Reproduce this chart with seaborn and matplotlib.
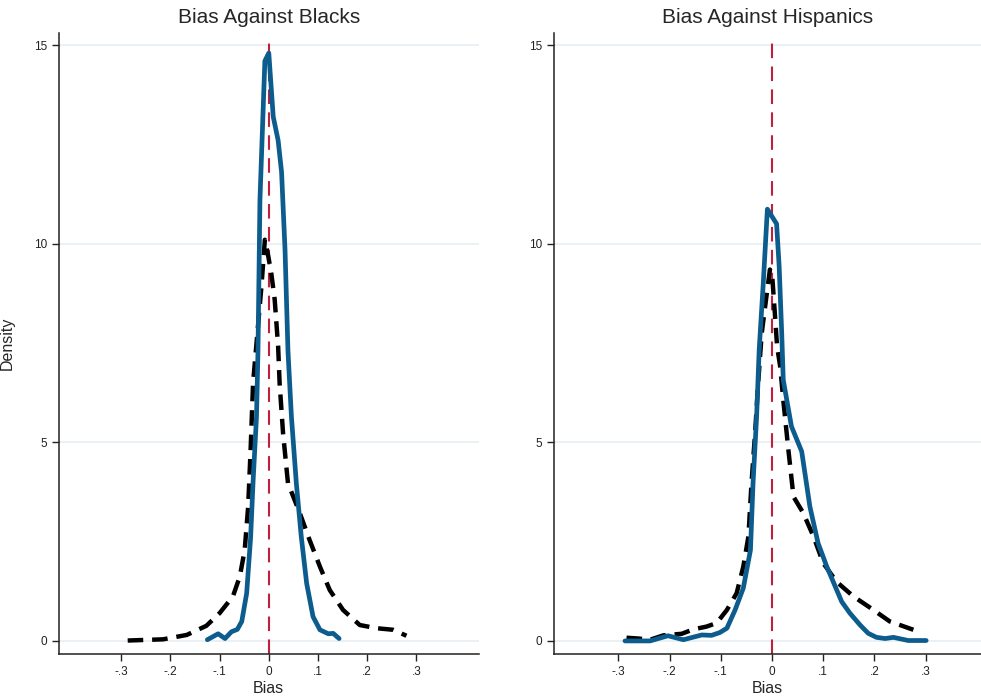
import matplotlib
matplotlib.use("Agg")
import matplotlib.pyplot as plt
import seaborn as sns
import pandas as pd

# ---- data ----
blacks_solid_x = [-0.125, -0.103, -0.089, -0.076, -0.064, -0.055, -0.045, -0.037, -0.032, -0.025,
                  -0.022, -0.018, -0.008, 0.0, 0.009, 0.019, 0.026, 0.033, 0.039, 0.046, 0.056,
                  0.066, 0.077, 0.090, 0.104, 0.121, 0.131, 0.143]
blacks_solid_y = [0.03, 0.18, 0.06, 0.23, 0.29, 0.49, 1.2, 2.6, 4.0, 5.65,
                  7.3, 11.1, 14.6, 14.8, 13.2, 12.6, 11.8, 9.85, 7.3, 5.65, 3.97,
                  2.63, 1.45, 0.61, 0.28, 0.18, 0.19, 0.06]

blacks_dash_x = [-0.287, -0.215, -0.167, -0.127, -0.100, -0.073, -0.059, -0.049, -0.042, -0.037,
                 -0.032, -0.015, -0.008, -0.001, 0.005, 0.012, 0.019, 0.022, 0.029, 0.039, 0.063,
                 0.083, 0.104, 0.124, 0.151, 0.185, 0.219, 0.253, 0.280]
blacks_dash_y = [0.01, 0.04, 0.15, 0.38, 0.70, 1.12, 1.62, 2.29, 3.38, 4.81,
                 6.49, 8.92, 10.1, 9.68, 9.26, 8.59, 7.41, 6.49, 5.23, 3.97, 3.22,
                 2.54, 1.87, 1.28, 0.78, 0.40, 0.32, 0.28, 0.13]

hisp_solid_x = [-0.287, -0.238, -0.203, -0.173, -0.137, -0.118, -0.102, -0.088, -0.072, -0.056,
                -0.042, -0.037, -0.030, -0.025, -0.017, -0.009, 0.009, 0.014, 0.019, 0.022,
                0.038, 0.058, 0.074, 0.090, 0.107, 0.136, 0.152, 0.172, 0.188, 0.204, 0.221,
                0.237, 0.266, 0.301]
hisp_solid_y = [0.0, 0.0, 0.13, 0.03, 0.15, 0.14, 0.21, 0.32, 0.78, 1.33,
                2.29, 3.97, 5.65, 7.33, 9.01, 10.87, 10.5, 9.43, 7.75, 6.57,
                5.4, 4.77, 3.38, 2.46, 1.87, 0.99, 0.70, 0.40, 0.19, 0.09, 0.06,
                0.09, 0.01, 0.01]

hisp_dash_x = [-0.284, -0.261, -0.238, -0.212, -0.176, -0.154, -0.128, -0.108, -0.088, -0.069,
               -0.056, -0.046, -0.040, -0.033, -0.027, -0.020, -0.010, -0.004, 0.001, 0.006,
               0.010, 0.016, 0.022, 0.032, 0.042, 0.061, 0.081, 0.100, 0.126, 0.159, 0.198,
               0.230, 0.276]
hisp_dash_y = [0.08, 0.06, 0.03, 0.14, 0.18, 0.29, 0.36, 0.45, 0.78, 1.2,
               1.87, 2.63, 3.97, 5.23, 6.49, 7.75, 8.76, 9.35, 9.09, 8.17,
               7.41, 6.91, 6.07, 4.81, 3.63, 3.22, 2.63, 1.96, 1.49, 1.12, 0.78,
               0.49, 0.28]

titles = ["Bias Against Blacks", "Bias Against Hispanics"]
x_ticks = [-0.3, -0.2, -0.1, 0.0, 0.1, 0.2, 0.3]
x_tick_labels = ["-.3", "-.2", "-.1", "0", ".1", ".2", ".3"]
y_ticks = [0, 5, 10, 15]

# ---- style ----
sns.set_style("white")
plt.rcParams['font.family'] = ['Liberation Sans', 'DejaVu Sans']

BLUE = "#0c5d8e"
RED = "#c0203e"
GRID = "#e8eef2"

fig = plt.figure(figsize=(9.81, 6.98), dpi=100)
axL = fig.add_axes([0.060, 0.063, 0.428, 0.890])
axR = fig.add_axes([0.565, 0.063, 0.435, 0.890])

panels = [
    (axL, blacks_solid_x, blacks_solid_y, blacks_dash_x, blacks_dash_y, (-0.427, 0.427)),
    (axR, hisp_solid_x, hisp_solid_y, hisp_dash_x, hisp_dash_y, (-0.425, 0.408)),
]

for i, (ax, sx, sy, dx, dy, xl) in enumerate(panels):
    for yt in y_ticks:
        ax.axhline(yt, color=GRID, lw=1.2, zorder=0)
    ax.axvline(0, ymin=0, ymax=(15.15 + 0.33) / (15.31 + 0.33), color=RED, lw=1.5,
               dashes=(7, 4), zorder=1)
    df_d = pd.DataFrame({"x": dx, "y": dy})
    df_s = pd.DataFrame({"x": sx, "y": sy})
    sns.lineplot(data=df_d, x="x", y="y", ax=ax, color="black", lw=3.2,
                 sort=False, estimator=None, zorder=2)
    ax.lines[-1].set_dashes((3.5, 2.0))
    sns.lineplot(data=df_s, x="x", y="y", ax=ax, color=BLUE, lw=3.4,
                 sort=False, estimator=None, zorder=3, solid_capstyle="round",
                 solid_joinstyle="round")
    ax.set_xlim(*xl)
    ax.set_ylim(-0.33, 15.31)
    ax.set_xticks(x_ticks)
    ax.set_xticklabels(x_tick_labels)
    ax.set_yticks(y_ticks)
    ax.tick_params(axis="both", labelsize=8.5, length=5, width=1, colors="#222222",
                   direction="out", bottom=True, left=True)
    for side in ["top", "right"]:
        ax.spines[side].set_visible(False)
    for side in ["left", "bottom"]:
        ax.spines[side].set_color("#222222")
        ax.spines[side].set_linewidth(1.1)
    ax.set_title(titles[i], fontsize=15, pad=7)
    ax.set_xlabel("Bias", fontsize=11.5, labelpad=2)
    ax.set_ylabel("Density" if i == 0 else "", fontsize=11.5, labelpad=14)

fig.savefig("out.png", dpi=100)
